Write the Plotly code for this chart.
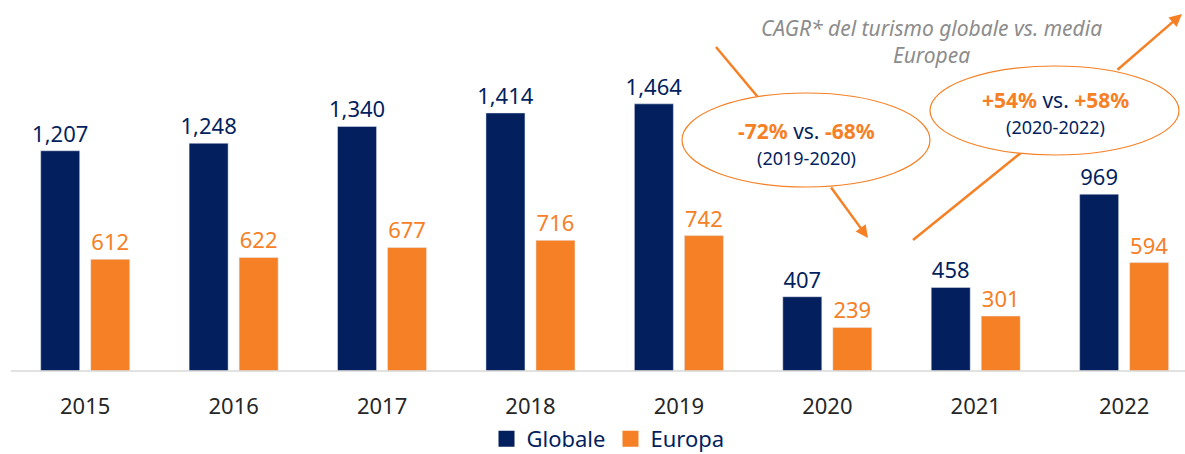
import plotly.graph_objects as go

years = ["2015", "2016", "2017", "2018", "2019", "2020", "2021", "2022"]
globale = [1207, 1248, 1340, 1414, 1464, 407, 458, 969]
europa = [612, 622, 677, 716, 742, 239, 301, 594]

NAVY = "#041f5e"
ORANGE = "#f58025"
FONT = "Noto Sans"

W, H = 1185, 454
L, R, T, B = 11, 1185, 0, 371  # plot area in pixels


def px(x):
    return (x - L) / (R - L)


def py(y):
    return (B - y) / (B - T)


fig = go.Figure()
for name, vals, col in [("Globale", globale, NAVY), ("Europa", europa, ORANGE)]:
    fig.add_trace(go.Bar(
        x=years, y=vals, name=name, marker_color=col, showlegend=False,
        texttemplate="%{y:,}", textposition="outside", constraintext="none",
        textfont=dict(color=col, size=22, family=FONT), cliponaxis=False,
        hoverinfo="skip",
    ))
for name, col in [("Globale", NAVY), ("Europa", ORANGE)]:
    fig.add_trace(go.Scatter(
        x=[None], y=[None], mode="markers", name=name,
        marker=dict(symbol="square", size=16, color=col),
    ))

shapes = []
annotations = []

# arrow 1 (down)
shapes.append(dict(type="line", xref="paper", yref="paper",
                   x0=px(716), y0=py(47), x1=px(762), y1=py(102),
                   line=dict(color=ORANGE, width=2.5)))
annotations.append(dict(xref="paper", yref="paper", x=px(868), y=py(238),
                        ax=830 - 868, ay=186 - 238, text="", showarrow=True,
                        arrowhead=2, arrowsize=1, arrowwidth=2.5, arrowcolor=ORANGE))
# arrow 2 (up)
shapes.append(dict(type="line", xref="paper", yref="paper",
                   x0=px(913), y0=py(240), x1=px(1022), y1=py(152),
                   line=dict(color=ORANGE, width=2.5)))
annotations.append(dict(xref="paper", yref="paper", x=px(1182), y=py(14),
                        ax=1116 - 1182, ay=71 - 14, text="", showarrow=True,
                        arrowhead=2, arrowsize=1, arrowwidth=2.5, arrowcolor=ORANGE))

# ellipses
shapes.append(dict(type="circle", xref="paper", yref="paper",
                   x0=px(682), x1=px(930), y0=py(93), y1=py(187),
                   line=dict(color=ORANGE, width=1.2), fillcolor="white"))
shapes.append(dict(type="circle", xref="paper", yref="paper",
                   x0=px(930), x1=px(1179), y0=py(66), y1=py(155),
                   line=dict(color=ORANGE, width=1.2), fillcolor="white"))

# baseline
shapes.append(dict(type="line", xref="paper", yref="paper",
                   x0=0, x1=1, y0=0, y1=0, line=dict(color="#d9d9d9", width=1.5)))


def txt(x, y, text, size, color):
    return dict(xref="paper", yref="paper", x=px(x), y=py(y), text=text,
                xanchor="center", yanchor="middle", showarrow=False,
                align="center", font=dict(color=color, size=size, family=FONT))


annotations.append(txt(931, 41, "<i>CAGR* del turismo globale vs. media<br>Europea</i>", 21, "#8c8c8c"))
annotations.append(txt(806, 131,
                       f"<b><span style='color:{ORANGE}'>-72%</span></b> vs. <b><span style='color:{ORANGE}'>-68%</span></b>",
                       21, NAVY))
annotations.append(txt(806, 158, "(2019-2020)", 18, NAVY))
annotations.append(txt(1055, 100,
                       f"<b><span style='color:{ORANGE}'>+54%</span></b> vs. <b><span style='color:{ORANGE}'>+58%</span></b>",
                       21, NAVY))
annotations.append(txt(1055, 127, "(2020-2022)", 18, NAVY))

fig.update_layout(
    width=W, height=H,
    margin=dict(l=L, r=W - R, t=T, b=H - B, pad=0, autoexpand=False),
    plot_bgcolor="white", paper_bgcolor="white",
    barmode="group", bargap=0.326, bargroupgap=0.22,
    font=dict(family=FONT),
    showlegend=True,
    legend=dict(orientation="h", x=px(608), xanchor="center", y=py(460), yanchor="bottom",
                font=dict(size=22, color=NAVY, family=FONT), itemwidth=30,
                traceorder="normal", bgcolor="rgba(0,0,0,0)"),
    shapes=shapes, annotations=annotations,
    xaxis=dict(range=[-0.5, 7.41], showgrid=False, zeroline=False, showline=False,
               ticks="", ticklabelstandoff=20, fixedrange=True,
               tickfont=dict(size=22, color="#262626", family=FONT)),
    yaxis=dict(range=[0, 2033], visible=False, showgrid=False, zeroline=False, fixedrange=True),
)

fig.write_html("out.html", config={"displayModeBar": False},
               post_script="document.body.style.margin='0';")
